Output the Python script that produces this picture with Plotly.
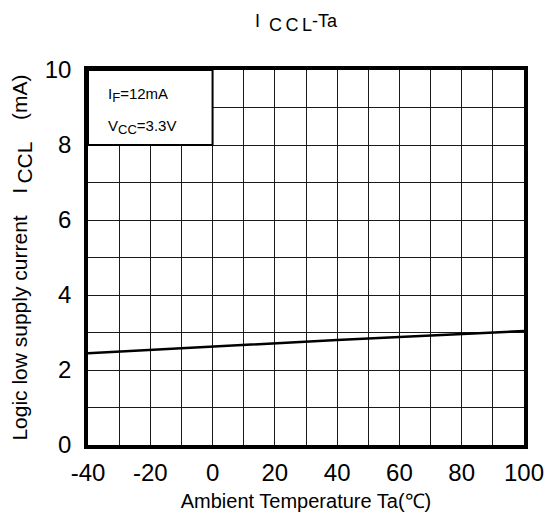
import plotly.graph_objects as go

# Data
ta = [-40, -20, 0, 20, 40, 60, 80, 100]
iccl = [2.45, 2.54, 2.63, 2.72, 2.80, 2.88, 2.96, 3.04]

x_ticks = [-40, -20, 0, 20, 40, 60, 80, 100]
y_ticks = [0, 2, 4, 6, 8, 10]
x_range = [-40, 100]
y_range = [0, 10]

cond_box_x = [-40, 0]
cond_box_y = [8, 10]
cond_lines = ["I<sub><span style='font-size:13px'>F</span></sub>=12mA",
              "V<sub><span style='font-size:13px'>CC</span></sub>=3.3V"]
cond_y = [9.33, 8.48]

FONT = "Liberation Sans, Arial, sans-serif"

fig = go.Figure()
fig.add_trace(go.Scatter(x=ta, y=iccl, mode="lines",
                         line=dict(color="black", width=2.5),
                         showlegend=False, hoverinfo="skip"))

grid_color = "#1a1a1a"
fig.update_xaxes(range=x_range, tickvals=x_ticks, ticktext=[str(v) for v in x_ticks],
                 showgrid=True, gridcolor=grid_color, gridwidth=1,
                 minor=dict(dtick=10, tick0=-40, showgrid=True, gridcolor=grid_color, gridwidth=1),
                 showline=True, linecolor="black", linewidth=3.5, mirror=True,
                 ticks="", ticklabelstandoff=3, zeroline=False, automargin=False,
                 tickfont=dict(size=24, color="black", family=FONT),
                 title=dict(text="Ambient Temperature Ta(℃)", standoff=10,
                            font=dict(size=20, color="black", family=FONT)))
fig.update_yaxes(range=y_range, tickvals=y_ticks, ticktext=[str(v) for v in y_ticks],
                 showgrid=True, gridcolor=grid_color, gridwidth=1,
                 minor=dict(dtick=1, tick0=0, showgrid=True, gridcolor=grid_color, gridwidth=1),
                 showline=True, linecolor="black", linewidth=3.5, mirror=True,
                 ticks="", ticklabelstandoff=8, zeroline=False, automargin=False,
                 tickfont=dict(size=24, color="black", family=FONT),
                 title=dict(text="Logic low supply current\u00a0\u00a0\u00a0\u2009I<sub><span style='font-size:21px'>\u2009CCL</span></sub>\u00a0\u00a0\u00a0\u2009(mA)\u00a0\u00a0",
                            standoff=12,
                            font=dict(size=21, color="black", family=FONT)))

fig.add_shape(type="rect", xref="x", yref="y",
              x0=cond_box_x[0], x1=cond_box_x[1], y0=cond_box_y[0], y1=cond_box_y[1],
              fillcolor="white", line=dict(color="black", width=2), layer="between")
for txt, yy in zip(cond_lines, cond_y):
    fig.add_annotation(x=cond_box_x[0], y=yy, xref="x", yref="y", text=txt,
                       showarrow=False, xanchor="left", yanchor="middle", xshift=18,
                       font=dict(size=15, color="black", family=FONT))

fig.update_layout(
    width=547, height=512,
    margin=dict(l=88, r=23, t=70, b=67),
    paper_bgcolor="white", plot_bgcolor="white",
    title=dict(text="I<sub><span style='font-size:18px'>\u2002C\u2009C\u2009L</span></sub>-Ta",
               x=296 / 547, xanchor="center", y=1 - 21 / 512, yanchor="middle",
               font=dict(size=18, color="black", family=FONT)),
)

# remove the default page margin so the figure fills the window exactly
fig.write_html("out.html",
               config={"displayModeBar": False},
               post_script="document.body.style.margin='0';document.body.style.overflow='hidden';")
